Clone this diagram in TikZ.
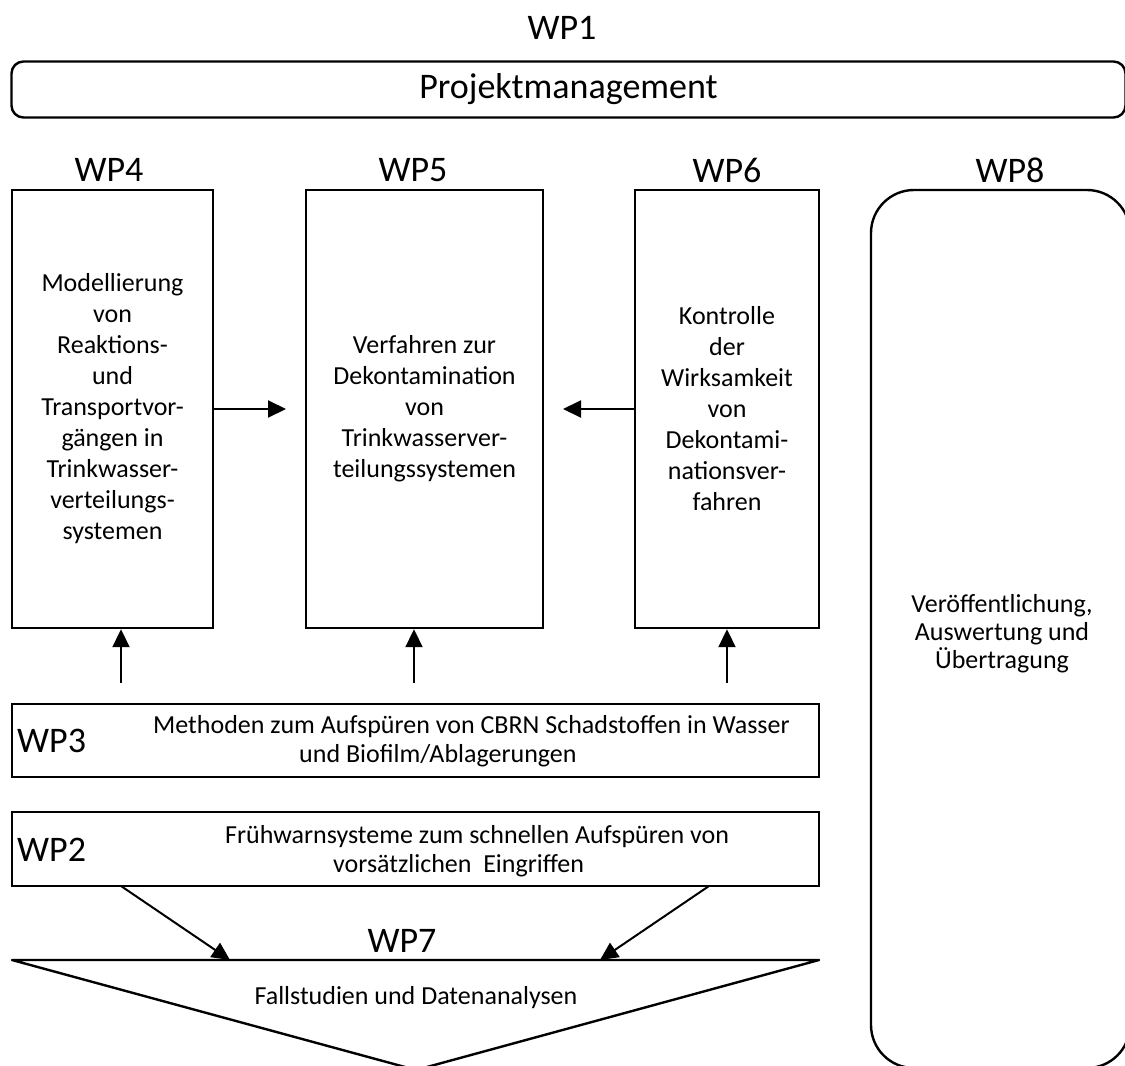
\documentclass[tikz,border=0pt]{standalone}
\usepackage{fontspec}
\setmainfont{Carlito}
\usetikzlibrary{arrows.meta}
\begin{document}
\begin{tikzpicture}[x=1pt,y=-1pt,
  box/.style={draw, line width=2.4pt, rectangle, inner sep=0pt, align=center,
              font=\fontsize{26}{31}\selectfont},
  lbl/.style={font=\fontsize{36}{40}\selectfont, inner sep=0pt},
  rowtxt/.style={font=\fontsize{26}{29}\selectfont, inner sep=0pt, align=left, anchor=west},
  arr/.style={line width=2pt, -{Triangle[length=18pt,width=17pt]}},
  outline/.style={line width=2.4pt, line join=round},
]
\useasboundingbox (0,0) rectangle (1125,1066);
\clip (0,0) rectangle (1125,1066);
\fill[white] (0,0) rectangle (1125,1066);

% WP1
\node[lbl] (wp1) at (562,28) {WP1};
\node[box, rounded corners=12pt, minimum width=1114pt, minimum height=56pt,
      font=\fontsize{36}{40}\selectfont] (pm) at (568.5,89.5) {Projektmanagement};

% column labels
\node[lbl] (l4) at (109,170) {WP4};
\node[lbl] (l5) at (413,170) {WP5};
\node[lbl] (l6) at (727,170) {WP6};
\node[lbl] (l8) at (1010,170) {WP8};

% column boxes
\node[box, minimum width=201pt, minimum height=438pt] (wp4) at (112.5,409)
  {Modellierung\\von\\Reaktions-\\und\\Transportvor-\\gängen in\\Trinkwasser-\\verteilungs-\\systemen};
\node[box, minimum width=237pt, minimum height=438pt] (wp5) at (424.5,409)
  {Verfahren zur\\Dekontamination\\von\\Trinkwasserver-\\teilungssystemen};
\node[box, minimum width=184pt, minimum height=438pt] (wp6) at (727,409)
  {Kontrolle\\der\\Wirksamkeit\\von\\Dekontami-\\nationsver-\\fahren};
\node[box, rounded corners=43pt, minimum width=259pt, minimum height=878pt] (wp8) at (1000.5,629) {};
\node[font=\fontsize{26}{28}\selectfont, inner sep=0pt, align=center] (t8) at (1002,634)
  {Veröffentlichung,\\Auswertung und\\Übertragung};

% horizontal arrows
\coordinate (t45) at (286,409);
\coordinate (t65) at (563,409);
\draw[arr] (wp4.east) -- (t45);
\draw[arr] (wp6.west) -- (t65);

% WP3
\node[box, minimum width=807pt, minimum height=73pt] (wp3) at (415.5,740.5) {};
\node[lbl, anchor=west] (l3) at (17,741) {WP3};
\node[rowtxt] (t3) at (153,741)
  {Methoden zum Aufspüren von CBRN Schadstoffen in Wasser\\\hspace*{146pt}und Biofilm/Ablagerungen};

% up arrows
\coordinate (a4) at (121,683);
\coordinate (a5) at (414,683);
\coordinate (a6) at (727,683);
\draw[arr] (a4) -- (a4 |- wp4.south);
\draw[arr] (a5) -- (a5 |- wp5.south);
\draw[arr] (a6) -- (a6 |- wp6.south);

% WP2
\node[box, minimum width=807pt, minimum height=74pt] (wp2) at (415.5,849) {};
\node[lbl, anchor=west] (l2) at (17,850) {WP2};
\node[rowtxt] (t2) at (225,851)
  {Frühwarnsysteme zum schnellen Aufspüren von\\\hspace*{108pt}vorsätzlichen\ \ Eingriffen};

% WP7 triangle
\coordinate (p1) at (12,960);
\coordinate (p2) at (819,960);
\coordinate (p3) at (416,1070);
\draw[outline] (p1) -- (p2) -- (p3) -- cycle;
\node[lbl] (l7) at (402,941) {WP7};
\node[font=\fontsize{26}{30}\selectfont, inner sep=0pt] (t7) at (416,998) {Fallstudien und Datenanalysen};

% diagonal arrows
\coordinate (d1) at (121,886);
\coordinate (d2) at (709,886);
\coordinate (e1) at (230,960);
\coordinate (e2) at (600,960);
\draw[arr] (d1) -- (e1);
\draw[arr] (d2) -- (e2);
\end{tikzpicture}
\end{document}
